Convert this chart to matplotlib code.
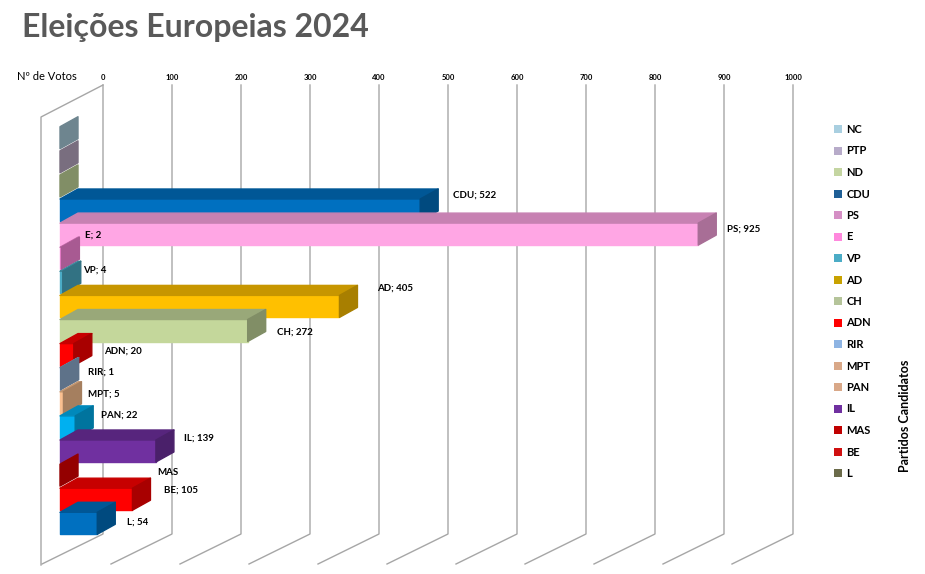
import matplotlib
matplotlib.use('Agg')
import matplotlib.pyplot as plt
from matplotlib.patches import Polygon, Patch
import matplotlib.colors as mcolors
import numpy as np

plt.rcParams['font.family'] = ['Lato', 'DejaVu Sans']

# dados (de cima para baixo, como no gráfico)
partidos = ['NC', 'PTP', 'ND', 'CDU', 'PS', 'E', 'VP', 'AD', 'CH', 'ADN',
            'RIR', 'MPT', 'PAN', 'IL', 'MAS', 'BE', 'L']
votos = [0, 0, 0, 522, 925, 2, 4, 405, 272, 20, 1, 5, 22, 139, 0, 105, 54]
sem_rotulo = ['NC', 'PTP', 'ND']
eixo_votos = list(range(0, 1001, 100))

cores_barra = ['#a6c9d8', '#b8a6c0', '#c4d79b', '#0070c0', '#ffa6e4', '#ff88dd',
               '#4bacc6', '#ffc000', '#c4d79b', '#ff0000', '#8eacd0', '#fac090',
               '#00b0f0', '#7030a0', '#e00000', '#ff0000', '#0070c0']
cores_legenda = ['#a9cfe0', '#b7abc9', '#c4d5a1', '#1f5f96', '#d58fc5', '#ff88dd',
                 '#4bacc6', '#c8a200', '#b5c49a', '#ff0000', '#8eb4e3', '#d9a888',
                 '#d9a888', '#7030a0', '#c00000', '#d01010', '#6b6b4a']

# ajustes manuais dos rótulos (pixels)
ajuste_rotulo = {'CDU': (6, -7), 'PS': (2, 3), 'E': (-3, -15), 'VP': (-7, -4),
                 'AD': (11, -10), 'CH': (2, 10), 'ADN': (3, 5), 'RIR': (0, 1),
                 'MPT': (-2, -1), 'PAN': (-1, -4), 'IL': (1, -5), 'MAS': (70, 5),
                 'BE': (5, -1), 'L': (3, 7)}

W, H = 925, 574
fig = plt.figure(figsize=(W / 100, H / 100), dpi=100)
ax = fig.add_axes([0, 0, 1, 1])

# escala: 0 votos no plano de fundo em x=103 px, 0.69 px por voto; linhas de 24.1 px
px_voto = 0.69
x0_px, y0_px, passo = 103, 137.7, 24.1
PX = 1 / px_voto
PY = 1 / passo
ax.set_xlim(-x0_px * PX, (W - x0_px) * PX)
ax.set_ylim((H - y0_px) * PY, -y0_px * PY)
ax.axis('off')


def ylin(py):
    return (py - y0_px) * PY


# grelha de fundo e chão
cor_grelha = '#a6a6a6'
y_topo, y_base = ylin(85), ylin(534)
for t in eixo_votos:
    ax.plot([t, t, t - 61 * PX], [y_topo, y_base, y_base + 30 * PY],
            color=cor_grelha, lw=1, zorder=1)
    ax.text(t, ylin(77), str(t), ha='center', va='center', fontsize=5.5,
            weight='bold', color='#000000')
xw = -62 * PX
ax.plot([0, xw, xw], [y_topo, ylin(117), ylin(565)], color=cor_grelha, lw=1, zorder=1)


def escurecer(c, f):
    r, g, b = mcolors.to_rgb(c)
    return (r * f, g * f, b * f)


# barras 3D
xb = -43 * PX
h = 22 * PY
dx, dy = 18 * PX, 10 * PY
for i, (p, v, c) in enumerate(zip(partidos, votos, cores_barra)):
    yt, yb = i - h / 2, i + h / 2
    x1 = xb + v
    z = 10 + i
    if v > 0:
        ax.add_patch(Polygon([(xb, yt), (x1, yt), (x1, yb), (xb, yb)],
                             closed=True, fc=c, ec=c, lw=1, joinstyle='round', zorder=z))
        topo = escurecer(c, 0.78)
        ax.add_patch(Polygon([(xb, yt), (x1, yt), (x1 + dx, yt - dy), (xb + dx, yt - dy)],
                             closed=True, fc=topo, ec=topo, lw=1, joinstyle='round', zorder=z))
    lado = escurecer(c, 0.66)
    ax.add_patch(Polygon([(x1, yt), (x1 + dx, yt - dy), (x1 + dx, yb - dy), (x1, yb)],
                         closed=True, fc=lado, ec=lado, lw=1, joinstyle='round', zorder=z))
    if p in sem_rotulo:
        continue
    rotulo = f'{p}; {v}' if v else p
    ax_, ay_ = ajuste_rotulo.get(p, (0, 0))
    ax.text(x1 + dx + (9 + ax_) * PX, i + (-8 + ay_) * PY, rotulo, fontsize=7,
            weight='bold', ha='left', va='center', zorder=100)

# legenda
handles = [Patch(facecolor=c, edgecolor='none') for c in cores_legenda]
ax.legend(handles, partidos, loc='upper left',
          bbox_to_anchor=(834 / W, 1 - 124 / H), bbox_transform=fig.transFigure,
          frameon=False, prop={'weight': 'bold', 'size': 8},
          handlelength=0.75, handleheight=0.75, handletextpad=0.35,
          labelspacing=0.945, borderpad=0, borderaxespad=0)

fig.text(905 / W, 1 - 472 / H, 'Partidos Candidatos', rotation=90,
         ha='center', va='bottom', fontsize=9, weight='bold')
fig.text(17 / W, 1 - 77 / H, 'Nº de Votos', ha='left', va='center', fontsize=8)
fig.text(22 / W, 1 - 27 / H, 'Eleições Europeias 2024', ha='left', va='center',
         fontsize=23, weight='bold', color='#595959')

fig.savefig('out.png', dpi=100)
